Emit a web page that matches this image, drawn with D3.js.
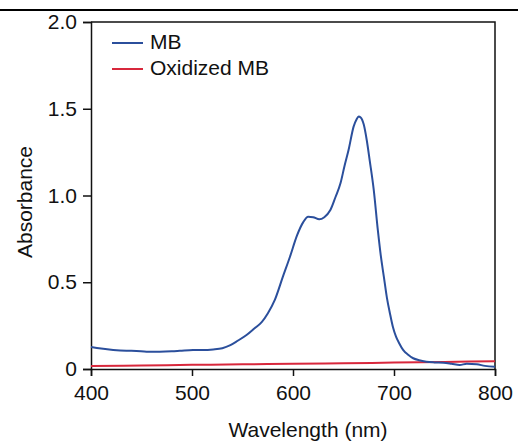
<!DOCTYPE html>
<html>
<head>
<meta charset="utf-8">
<script src="https://cdn.jsdelivr.net/npm/d3@7"></script>
<style>
  body { margin: 0; background: #fff; }
  svg text { font-family: "Liberation Sans", Arial, sans-serif; fill: #111; }
</style>
</head>
<body>
<div id="chart"></div>
<script>
// wavelength (nm) and absorbance of MB
var mbWave = [400, 410, 422, 435, 445, 455, 468, 480, 488, 501, 510, 521, 530, 538, 545, 554, 562, 569, 575, 582, 590, 597, 604, 610, 615, 620, 626, 631, 637, 642, 647, 651, 655, 660, 663, 665, 667, 670, 673, 676, 680, 684, 687, 690, 693, 696, 699, 702, 705, 709, 714, 719, 725, 732, 740, 749, 757, 765, 772, 782, 790, 800];
var mbAbs = [0.127, 0.118, 0.110, 0.105, 0.104, 0.100, 0.100, 0.102, 0.105, 0.110, 0.110, 0.113, 0.120, 0.138, 0.162, 0.196, 0.235, 0.270, 0.320, 0.398, 0.532, 0.647, 0.770, 0.845, 0.878, 0.875, 0.863, 0.875, 0.916, 0.990, 1.070, 1.170, 1.262, 1.397, 1.440, 1.455, 1.450, 1.410, 1.320, 1.200, 1.030, 0.800, 0.650, 0.530, 0.410, 0.320, 0.240, 0.186, 0.150, 0.110, 0.082, 0.062, 0.050, 0.042, 0.038, 0.036, 0.030, 0.023, 0.030, 0.027, 0.018, 0.013];
// oxidized MB
var oxWave = [400, 450, 500, 550, 600, 650, 700, 750, 800];
var oxAbs = [0.017, 0.020, 0.024, 0.027, 0.030, 0.033, 0.037, 0.041, 0.045];

var xTicks = [400, 500, 600, 700, 800];
var yTicks = [0, 0.5, 1.0, 1.5, 2.0];
var yTickLabels = ["0", "0.5", "1.0", "1.5", "2.0"];
var seriesNames = ["MB", "Oxidized MB"];
var colors = ["#2b4f9c", "#d8283c"];

var W = 518, H = 441;
var MARGIN = { top: 22, right: 23, bottom: 72, left: 91 };
var FONT = "21px";

var svg = d3.select("#chart").append("svg")
    .attr("width", W)
    .attr("height", H);

// separator line at the very top
svg.append("line")
    .attr("x1", 0).attr("x2", W)
    .attr("y1", 10).attr("y2", 10)
    .attr("stroke", "#000")
    .attr("stroke-width", 2);

var x = d3.scaleLinear().domain([400, 800]).range([MARGIN.left, W - MARGIN.right]);
var y = d3.scaleLinear().domain([0, 2]).range([H - MARGIN.bottom, MARGIN.top]);

// frame (top & right)
svg.append("path")
    .attr("d", "M" + x(400) + "," + y(2) + "H" + x(800) + "V" + y(0))
    .attr("fill", "none")
    .attr("stroke", "#111")
    .attr("stroke-width", 1.5);

var xAxis = svg.append("g")
    .attr("transform", "translate(0," + y(0) + ")")
    .call(d3.axisBottom(x).tickValues(xTicks).tickSize(7).tickPadding(9).tickFormat(d3.format("d")));
var yAxis = svg.append("g")
    .attr("transform", "translate(" + x(400) + ",0)")
    .call(d3.axisLeft(y).tickValues(yTicks).tickSize(8).tickPadding(6)
        .tickFormat(function(d, i) { return yTickLabels[i]; }));

[xAxis, yAxis].forEach(function(g) {
    g.select(".domain").attr("stroke", "#111").attr("stroke-width", 1.5);
    g.selectAll(".tick line").attr("stroke", "#111").attr("stroke-width", 1.5);
    g.selectAll(".tick text").attr("font-size", FONT)
        .attr("font-family", "Liberation Sans, Arial, sans-serif").attr("fill", "#111");
});

var line = d3.line()
    .x(function(d) { return x(d[0]); })
    .y(function(d) { return y(d[1]); })
    .curve(d3.curveMonotoneX);

var oxData = oxWave.map(function(w, i) { return [w, oxAbs[i]]; });
var mbData = mbWave.map(function(w, i) { return [w, mbAbs[i]]; });

svg.append("path")
    .datum(oxData)
    .attr("d", line)
    .attr("fill", "none")
    .attr("stroke", colors[1])
    .attr("stroke-width", 2);

svg.append("path")
    .datum(mbData)
    .attr("d", line)
    .attr("fill", "none")
    .attr("stroke", colors[0])
    .attr("stroke-width", 2);

// axis titles
svg.append("text")
    .attr("x", 308)
    .attr("y", 437)
    .attr("text-anchor", "middle")
    .attr("font-size", FONT)
    .text("Wavelength (nm)");

svg.append("text")
    .attr("transform", "translate(32,202) rotate(-90)")
    .attr("text-anchor", "middle")
    .attr("font-size", FONT)
    .text("Absorbance");

// legend
var legend = svg.append("g");
seriesNames.forEach(function(name, i) {
    var ly = 43 + i * 26;
    legend.append("line")
        .attr("x1", 112).attr("x2", 143)
        .attr("y1", ly).attr("y2", ly)
        .attr("stroke", colors[i])
        .attr("stroke-width", 2);
    legend.append("text")
        .attr("x", 150)
        .attr("y", ly + 6)
        .attr("font-size", FONT)
        .text(name);
});
</script>
</body>
</html>
